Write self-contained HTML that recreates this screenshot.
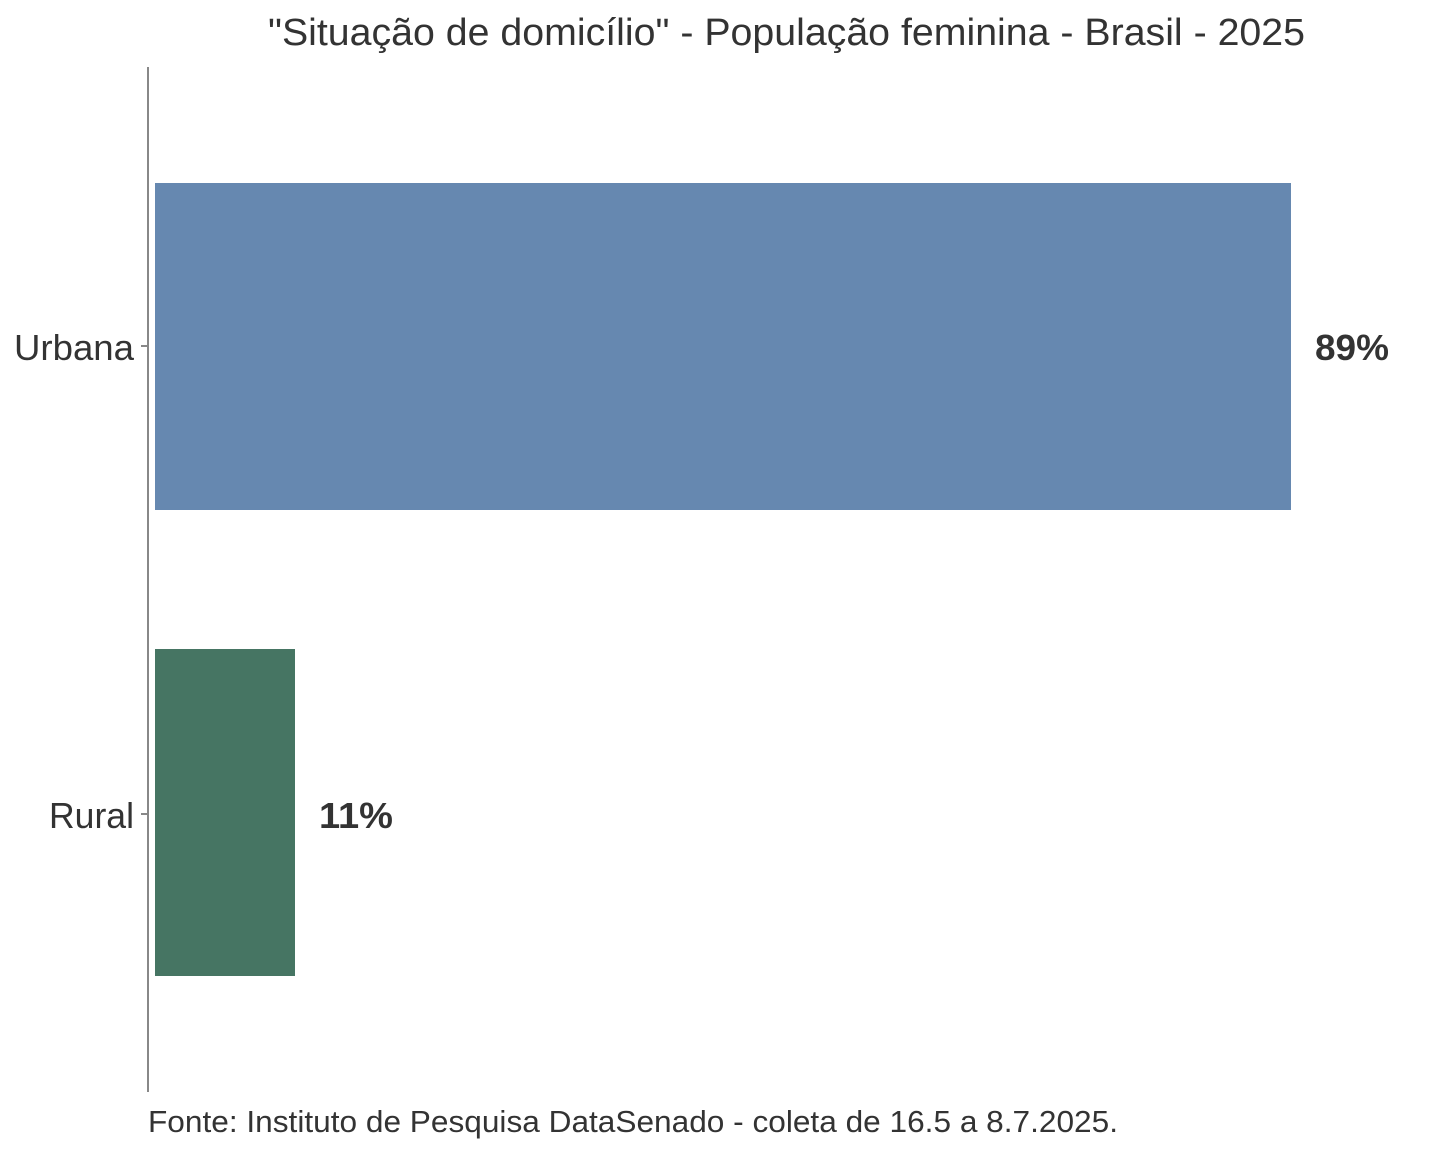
<!DOCTYPE html>
<html><head><style>
body{margin:0;background:#fff;}
svg{display:block;font-family:"Liberation Sans",Arial,sans-serif;}
</style></head><body>
<svg width="1440" height="1152" viewBox="0 0 1440 1152">
<rect width="1440" height="1152" fill="#fff"/>
<text x="268" y="45" font-size="38" fill="#333" textLength="1037" lengthAdjust="spacingAndGlyphs">"Situação de domicílio" - População feminina - Brasil - 2025</text>
<line x1="148" y1="67" x2="148" y2="1092" stroke="#888" stroke-width="2"/>
<line x1="141" y1="346" x2="148" y2="346" stroke="#888" stroke-width="2"/>
<line x1="141" y1="814" x2="148" y2="814" stroke="#888" stroke-width="2"/>
<rect x="155" y="183" width="1136" height="327" fill="#6688b0"/>
<rect x="155" y="649" width="140" height="327" fill="#467563"/>
<text x="14" y="360" font-size="36" fill="#333" textLength="120" lengthAdjust="spacingAndGlyphs">Urbana</text>
<text x="49" y="828" font-size="36" fill="#333" textLength="85" lengthAdjust="spacingAndGlyphs">Rural</text>
<text x="1315" y="360" font-size="36" font-weight="bold" fill="#333" textLength="74" lengthAdjust="spacingAndGlyphs">89%</text>
<text x="319" y="828" font-size="36" font-weight="bold" fill="#333" textLength="74" lengthAdjust="spacingAndGlyphs">11%</text>
<text x="148" y="1132" font-size="31" fill="#333" textLength="970" lengthAdjust="spacingAndGlyphs">Fonte: Instituto de Pesquisa DataSenado - coleta de 16.5 a 8.7.2025.</text>
</svg>
</body></html>
